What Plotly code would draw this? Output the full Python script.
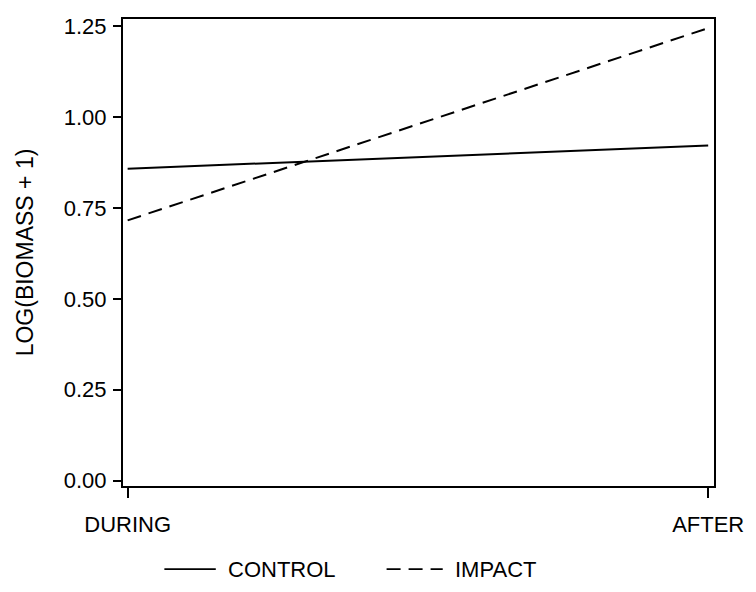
import plotly.graph_objects as go

# Period categories on the x axis
periods = ["DURING", "AFTER"]
period_pos = [0, 1]

# Mean log(biomass + 1) per site type
control_vals = [0.858, 0.922]
impact_vals = [0.716, 1.245]

y_ticks = [0.0, 0.25, 0.5, 0.75, 1.0, 1.25]
y_ticklabels = ["0.00", "0.25", "0.50", "0.75", "1.00", "1.25"]

series_names = ["CONTROL", "IMPACT"]

FONT = "Liberation Sans, Arial, Helvetica, sans-serif"
FS = 22
IMPACT_DASH = "14px,8px"

fig = go.Figure()
fig.add_trace(go.Scatter(
    x=period_pos, y=control_vals, mode="lines", name=series_names[0],
    line=dict(color="black", width=2), showlegend=False,
))
fig.add_trace(go.Scatter(
    x=period_pos, y=impact_vals, mode="lines", name=series_names[1],
    line=dict(color="black", width=2, dash=IMPACT_DASH), showlegend=False,
))

# Key below the plot: sample line + label for each series
key_y = -0.178
key_items = [
    (series_names[0], 0.070, 0.157, 0.175, "solid"),
    (series_names[1], 0.446, 0.541, 0.559, IMPACT_DASH),
]
for label, x0, x1, xt, dash in key_items:
    fig.add_shape(
        type="line", xref="paper", yref="paper",
        x0=x0, x1=x1, y0=key_y, y1=key_y,
        line=dict(color="black", width=1.6, dash=dash),
    )
    fig.add_annotation(
        xref="paper", yref="paper", x=xt, y=key_y,
        text=label, showarrow=False, xanchor="left", yanchor="middle",
        font=dict(size=FS),
    )

fig.update_layout(
    width=756, height=592,
    paper_bgcolor="white", plot_bgcolor="white",
    margin=dict(l=123, r=34, t=19, b=106),
    font=dict(family=FONT, size=FS, color="black"),
)
fig.update_xaxes(
    range=[-0.008, 1.01],
    tickmode="array", tickvals=period_pos, ticktext=periods,
    showgrid=False, zeroline=False,
    showline=True, linecolor="black", linewidth=2, mirror=True,
    ticks="outside", ticklen=10, tickwidth=1.5, tickcolor="black",
    ticklabelstandoff=8,
)
fig.update_yaxes(
    range=[-0.015, 1.27],
    tickmode="array", tickvals=y_ticks, ticktext=y_ticklabels,
    showgrid=False, zeroline=False,
    showline=True, linecolor="black", linewidth=2, mirror=True,
    ticks="outside", ticklen=8, tickwidth=1.5, tickcolor="black",
    ticklabelstandoff=2,
    title=dict(text="LOG(BIOMASS + 1)", font=dict(size=23), standoff=24),
)

fig.write_html("out.html")
